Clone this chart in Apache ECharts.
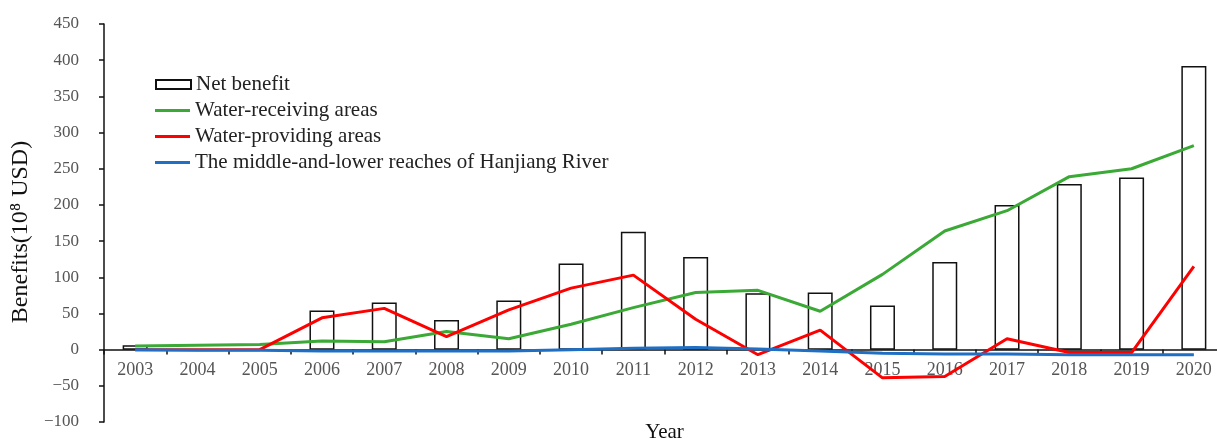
<!DOCTYPE html>
<html>
<head>
<meta charset="utf-8">
<script src="https://cdn.jsdelivr.net/npm/echarts@6/dist/echarts.min.js"></script>
<style>
html,body{margin:0;padding:0;background:#fff;}
#c{width:1217px;height:439px;}
</style>
</head>
<body>
<div id="c"></div>
<script>
const years = ['2003','2004','2005','2006','2007','2008','2009','2010','2011','2012','2013','2014','2015','2016','2017','2018','2019','2020'];
const netBenefit = [6, 0, 0, 54, 65, 41, 68, 119, 163, 128, 78, 79, 61, 121, 200, 229, 238, 392];
const waterReceiving = [5, 6, 7, 12, 11, 25, 15, 35, 58, 79, 82, 53, 104, 164, 192, 239, 250, 282];
const waterProviding = [0, 0, 0, 44, 57, 18, 55, 85, 103, 42, -7, 27, -39, -37, 15, -4, -4, 115];
const hanjiang = [0, -1, -1, -2, -2, -2, -2, 0, 2, 3, 1, -2, -5, -6, -6, -7, -7, -7];
const seriesNames = ['Net benefit','Water-receiving areas','Water-providing areas','The middle-and-lower reaches of Hanjiang River'];
const serif = '"Liberation Serif","Times New Roman",serif';

const legendText = {fontFamily: serif, fontSize: 21, color: '#222', lineHeight: 21};
const chart = echarts.init(document.getElementById('c'));
chart.setOption({
  animation: false,
  backgroundColor: '#fff',
  grid: {left: 104, top: 24, width: 1121, height: 398, outerBoundsMode: 'none', containLabel: false},
  legend: [
    {orient: 'vertical', left: 155, top: 74, padding: 0, itemWidth: 35, itemHeight: 9, icon: 'rect',
     textStyle: legendText, data: [seriesNames[0]]},
    {orient: 'vertical', left: 155, top: 100, padding: 0, itemWidth: 35, itemHeight: 3, itemGap: 5, icon: 'rect',
     textStyle: legendText, data: seriesNames.slice(1)}
  ],
  xAxis: {
    type: 'category', data: years, position: 'bottom', offset: -72.4,
    name: 'Year', nameLocation: 'middle', nameGap: 72,
    nameTextStyle: {fontFamily: serif, fontSize: 21, color: '#111'},
    axisLine: {onZero: false, lineStyle: {color: '#111', width: 1.5}},
    axisTick: {show: true, length: 5, lineStyle: {color: '#111', width: 1.5}},
    axisLabel: {fontFamily: serif, fontSize: 18, color: '#555', margin: 12}
  },
  yAxis: {
    type: 'value', min: -100, max: 450, interval: 50,
    name: 'Benefits(10⁸ USD)', nameLocation: 'middle', nameGap: 69,
    nameTextStyle: {fontFamily: serif, fontSize: 24, color: '#111', padding: [0, 18, 0, 0]},
    axisLine: {show: true, lineStyle: {color: '#111', width: 1.5}},
    axisTick: {show: true, length: 5, lineStyle: {color: '#111', width: 1.5}},
    splitLine: {show: false},
    axisLabel: {fontFamily: serif, fontSize: 17, color: '#555', margin: 25,
      formatter: v => String(v).replace('-', '\u2212')}
  },
  series: [
    {name: seriesNames[0], type: 'bar', data: netBenefit, barWidth: 25,
     itemStyle: {color: '#fff', borderColor: '#111', borderWidth: 1.5}},
    {name: seriesNames[1], type: 'line', data: waterReceiving, symbol: 'none',
     lineStyle: {color: '#3aa935', width: 3}, itemStyle: {color: '#3aa935'}},
    {name: seriesNames[2], type: 'line', data: waterProviding, symbol: 'none',
     lineStyle: {color: '#ff0000', width: 3}, itemStyle: {color: '#ff0000'}},
    {name: seriesNames[3], type: 'line', data: hanjiang, symbol: 'none',
     lineStyle: {color: '#1f6fc5', width: 3}, itemStyle: {color: '#1f6fc5'}}
  ]
});
</script>
</body>
</html>
